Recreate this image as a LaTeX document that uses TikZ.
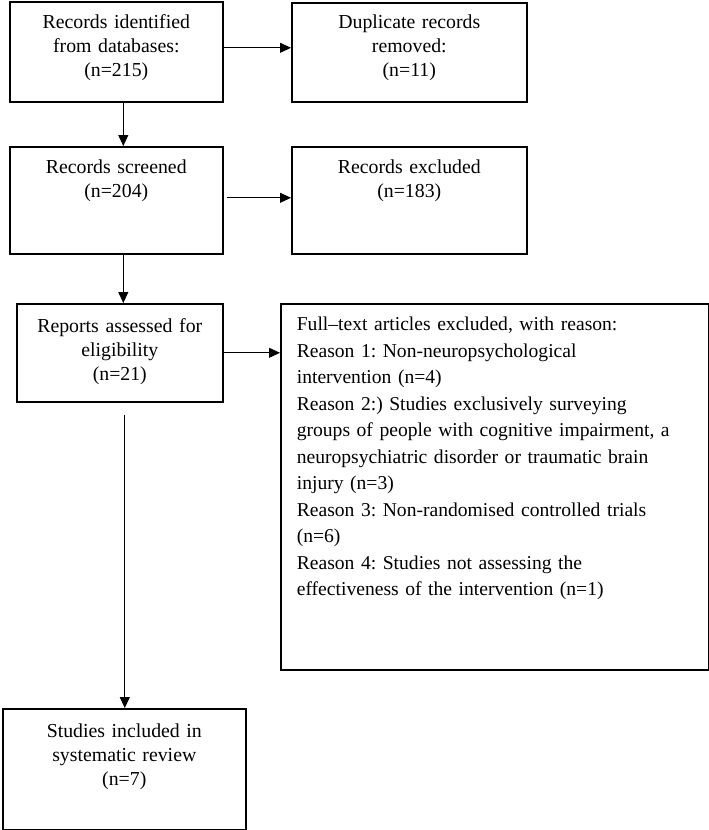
\documentclass[tikz,border=0pt]{standalone}
\usepackage{fontspec}
\setmainfont{Liberation Serif}
\usetikzlibrary{arrows.meta}
\frenchspacing

\tikzstyle{stage}=[draw,line width=1.6pt,anchor=north west,inner xsep=0pt,inner ysep=0pt,align=center,font=\fontsize{19.8}{24}\selectfont]
\tikzstyle{reasons}=[stage,inner xsep=16pt,align=left,font=\fontsize{19.6}{26.5}\selectfont]
\tikzstyle{flow} = [draw,line width=0.9pt,-{Triangle[length=11pt,width=10pt]}]

\begin{document}
\begin{tikzpicture}[x=1pt,y=1pt]
	\useasboundingbox (0,0) rectangle (709,-830);
	\node [stage,text width=213pt,text height=27pt,text depth=73pt] (ident) at (9,-1) {Records identified\\from databases:\\(n=215)};
	\node [stage,text width=235pt,text height=26pt,text depth=73pt] (dup) at (291,-2) {Duplicate records\\removed:\\(n=11)};
	\node [stage,text width=213pt,text height=27pt,text depth=80pt] (screened) at (9,-146) {Records screened\\(n=204)};
	\node [stage,text width=235pt,text height=27pt,text depth=80pt] (excl) at (291,-146) {Records excluded\\(n=183)};
	\node [stage,text width=206pt,text height=29pt,text depth=69pt] (reports) at (16,-303) {Reports assessed for\\eligibility\\(n=21)};
	\node [reasons,text width=396pt,text height=27pt,text depth=339pt] (full) at (280,-303) {Full--text articles excluded, with reason:\\
		Reason 1: Non-neuropsychological\\
		intervention (n=4)\\
		Reason 2:) Studies exclusively surveying\\
		groups of people with cognitive impairment, a\\
		neuropsychiatric disorder or traumatic brain\\
		injury (n=3)\\
		Reason 3: Non-randomised controlled trials\\
		(n=6)\\
		Reason 4: Studies not assessing the\\
		effectiveness of the intervention (n=1)};
	\node [stage,text width=243pt,text height=29pt,text depth=92pt] (studies) at (2,-708) {Studies included in\\systematic review\\(n=7)};

	\draw [flow] ([yshift=4pt]ident.east) -- ([yshift=4pt]ident.east -| dup.west);
	\draw [flow] ([xshift=7pt]ident.south) -- ([xshift=7pt]ident.south |- screened.north);
	\draw [flow] ([xshift=3pt,yshift=2.5pt]screened.east) -- ([yshift=2.5pt]screened.east -| excl.west);
	\draw [flow] ([xshift=7pt]screened.south) -- ([xshift=7pt]screened.south |- reports.north);
	\draw [flow] (reports.east) -- (reports.east -| full.west);
	\draw [flow] ([xshift=5pt,yshift=-12pt]reports.south) -- ([xshift=5pt]reports.south |- studies.north);
\end{tikzpicture}
\end{document}
